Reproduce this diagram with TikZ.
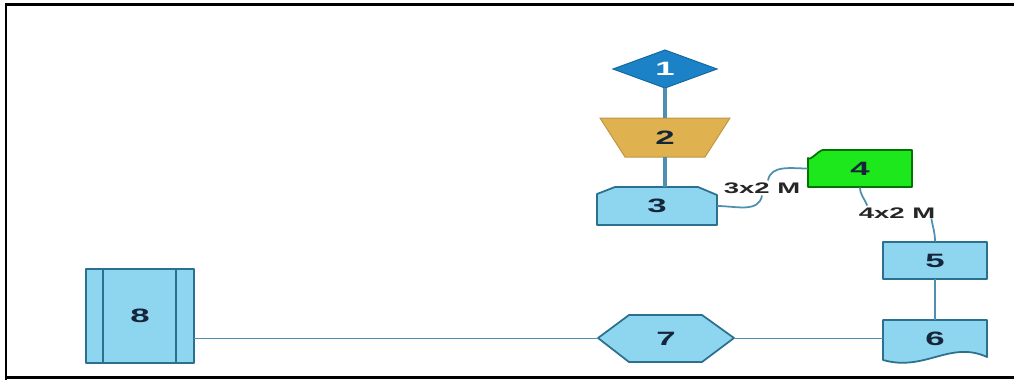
\documentclass[tikz,border=0pt]{standalone}
\usepackage{fontspec}
\setsansfont{Liberation Sans}
\usepackage{graphicx}
\usetikzlibrary{calc}
\definecolor{fillblue}{HTML}{8ED5F0}
\definecolor{edgeblue}{HTML}{2C7090}
\definecolor{linkblue}{HTML}{4F8FB2}
\definecolor{diamblue}{HTML}{1B82C8}
\definecolor{goldf}{HTML}{DFB24F}
\definecolor{greenf}{HTML}{1CE81C}
\definecolor{txtdark}{HTML}{16263A}
\newcommand\widetxt[1]{\scalebox{1.8}[1]{#1}}
\begin{document}
\begin{tikzpicture}[x=0.02cm,y=-0.02cm,
  shp/.style={draw=edgeblue, line width=0.035cm, fill=fillblue, line join=round},
  link/.style={draw=linkblue, line width=0.035cm},
  thicklink/.style={draw=linkblue, line width=0.07cm},
  num/.style={font=\sffamily\bfseries\fontsize{11}{11}\selectfont, text=txtdark, inner sep=0pt},
  lab/.style={font=\sffamily\bfseries\fontsize{8.7}{9}\selectfont, text=black!85, inner sep=1pt}]
\useasboundingbox (0,0) rectangle (1014,379);
% frame
\draw[line width=0.06cm] (6,380) -- (6,4) -- (1016,4);
\draw[line width=0.06cm] (6,377.5) -- (1016,377.5);
% shapes
\draw[fill=diamblue, draw=diamblue!80!black, line width=0.02cm] (613,69) -- (665,50) -- (717,69) -- (665,88) -- cycle;
\draw[fill=goldf, draw=goldf!85!black, line width=0.02cm] (600,118) -- (730,118) -- (705,157) -- (625,157) -- cycle;
\draw[shp] (597,194) -- (615,187) -- (698,187) -- (717,195) -- (717,225) -- (597,225) -- cycle;
\draw[fill=greenf, draw=green!45!black, line width=0.035cm, line join=round] (808,158) to[out=-60,in=180,looseness=0.6] (823,150) -- (912,150) -- (912,187) -- (808,187) -- cycle;
\draw[shp] (883,242) rectangle (987,279);
\draw[shp] (883,320) -- (987,320) -- (987,357) .. controls (950,340) and (925,372) .. (883,360) -- cycle;
\draw[shp] (598,338) -- (629,315) -- (702,315) -- (734,338) -- (702,362) -- (629,362) -- cycle;
\draw[shp] (86,269) rectangle (194,363);
\draw[draw=edgeblue, line width=0.035cm] (103,269) -- (103,363) (176,269) -- (176,363);
% nodes
\node[num, text=white, minimum width={104*0.02cm}, minimum height={38*0.02cm}] (n1) at (665,69) {\widetxt{1}};
\node[num, minimum width={130*0.02cm}, minimum height={39*0.02cm}] (n2) at (665,137.5) {\widetxt{2}};
\node[num, minimum width={120*0.02cm}, minimum height={38*0.02cm}] (n3) at (657,206) {\widetxt{3}};
\node[num, minimum width={104*0.02cm}, minimum height={37*0.02cm}] (n4) at (860,168.5) {\widetxt{4}};
\node[num, minimum width={104*0.02cm}, minimum height={37*0.02cm}] (n5) at (935,260.5) {\widetxt{5}};
\node[num, minimum width={104*0.02cm}, minimum height={36*0.02cm}] (n6) at (935,338.5) {\widetxt{6}};
\node[num, minimum width={136*0.02cm}, minimum height={47*0.02cm}] (n7) at (666,338.5) {\widetxt{7}};
\node[num, minimum width={108*0.02cm}, minimum height={94*0.02cm}] (n8) at (140,316) {\widetxt{8}};
\node[lab] (l1) at (762,188) {\widetxt{3x2 M}};
\node[lab] (l2) at (897,213) {\widetxt{4x2 M}};
% connectors
\draw[thicklink] (n1.south) -- (n2.north);
\draw[thicklink] (n2.south) -- (n2.south |- n3.north);
\draw[link] (n3.east) to[out=0,in=-100] (l1.south);
\draw[link] ($(l1.north)+(6,0)$) to[out=80,in=180] (n4.west);
\draw[link] (n4.south) to[out=-90,in=110] ($(l2.north west)!0.13!(l2.north east)$);
\draw[link] ($(l2.south east)+(-6,-2)$) to[out=-80,in=90] (n5.north);
\draw[link, line width=0.05cm] (n5.south) -- (n6.north);
\draw[link] (n7.east) -- (n7.east -| n6.west);
\draw[link] (n7.west) -- (n7.west -| n8.east);
\end{tikzpicture}
\end{document}
